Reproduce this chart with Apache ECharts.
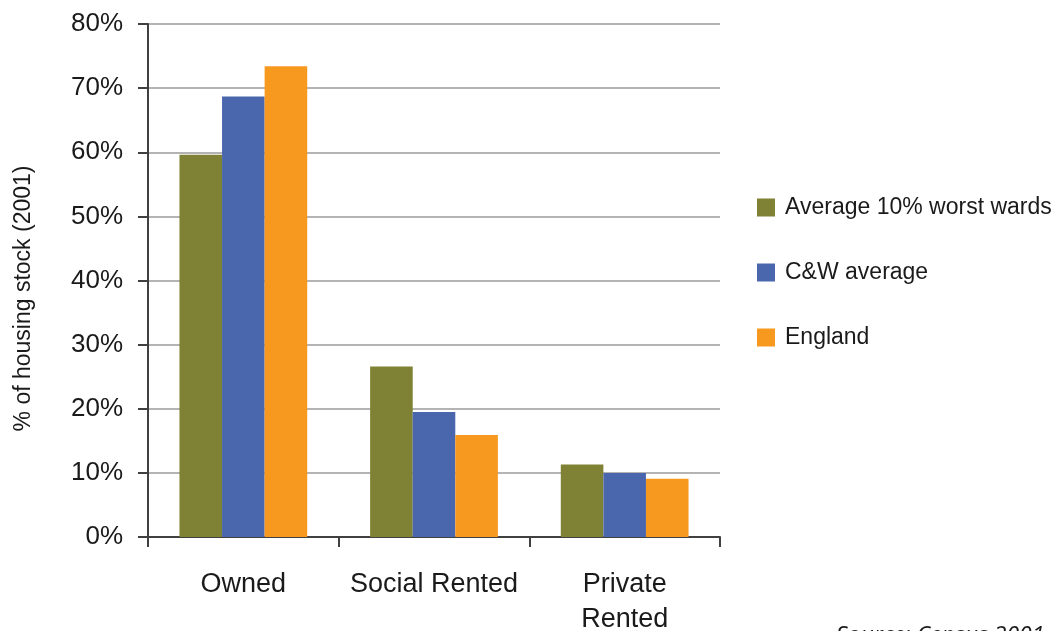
<!DOCTYPE html>
<html><head><meta charset="utf-8">
<script src="https://cdn.jsdelivr.net/npm/echarts@6/dist/echarts.min.js"></script>
<style>html,body{margin:0;padding:0;background:#fff}#c{width:1063px;height:631px}</style>
</head><body><div id="c"></div>
<script>
const categories = ['Owned', 'Social Rented', 'Private\nRented'];
const seriesNames = ['Average 10% worst wards', 'C&W average', 'England'];
const worstWards = [59.6, 26.6, 11.3];
const cwAverage = [68.7, 19.5, 10.0];
const england = [73.4, 15.9, 9.1];
const colors = ['#7f8135', '#4a67ae', '#f7981f'];
const yTicks = [0, 10, 20, 30, 40, 50, 60, 70, 80];

const font = '"Liberation Sans", Arial, sans-serif';
const chart = echarts.init(document.getElementById('c'));
const values = [worstWards, cwAverage, england];
chart.setOption({
  animation: false,
  color: colors,
  grid: {left: 148, right: 343, top: 24, bottom: 94, containLabel: false, outerBoundsMode: 'none'},
  legend: {
    orient: 'vertical', left: 752, top: 191, itemGap: 42,
    itemWidth: 18, itemHeight: 18, icon: 'rect',
    textStyle: {fontFamily: font, fontSize: 23, color: '#1a1a1a', padding: [0, 0, 0, 5]},
    data: seriesNames
  },
  xAxis: {
    type: 'category', data: categories,
    axisLine: {lineStyle: {color: '#404040', width: 2}},
    axisTick: {show: true, interval: 0, length: 10, lineStyle: {color: '#404040', width: 2}},
    axisLabel: {interval: 0, fontFamily: font, fontSize: 27, color: '#1a1a1a', margin: 30, lineHeight: 35}
  },
  yAxis: {
    type: 'value', min: yTicks[0], max: yTicks[yTicks.length - 1], interval: 10,
    name: '% of housing stock (2001)', nameLocation: 'middle', nameGap: 113, nameRotate: 90,
    nameTextStyle: {fontFamily: font, fontSize: 23, color: '#1a1a1a', padding: [0, 36, 0, 0]},
    axisLine: {show: true, lineStyle: {color: '#404040', width: 2}},
    axisTick: {show: true, length: 10, lineStyle: {color: '#404040', width: 2}},
    axisLabel: {formatter: '{value}%', fontFamily: font, fontSize: 26, color: '#1a1a1a', margin: 25},
    splitLine: {lineStyle: {color: '#b4b4b4', width: 2}}
  },
  series: seriesNames.map((n, i) => ({
    name: n, type: 'bar', data: values[i],
    barGap: '0%', barCategoryGap: '33%'
  })),
  graphic: [{
    type: 'text', left: 836, top: 625,
    style: {text: 'Source: Census 2001', font: 'italic 23px "Open Sans", sans-serif', fill: '#1a1a1a'}
  }]
});
</script></body></html>
